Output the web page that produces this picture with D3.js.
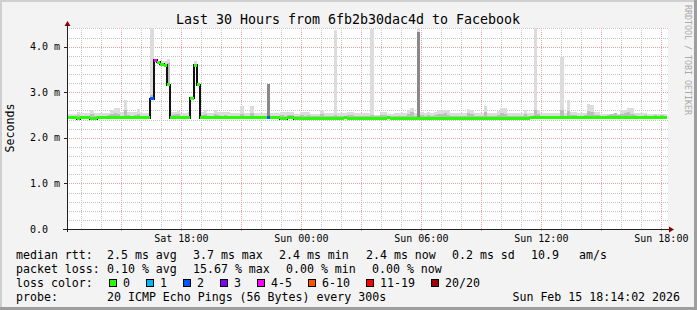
<!DOCTYPE html>
<html>
<head>
<meta charset="utf-8">
<script src="https://cdn.jsdelivr.net/npm/d3@7"></script>
<style>
  body { margin: 0; background: #fff; }
  svg text { font-family: "DejaVu Sans Mono", monospace; fill: #000; }
</style>
</head>
<body>
<svg id="chart" width="697" height="310"></svg>
<script>
var title = "Last 30 Hours from 6fb2b30dac4d to Facebook";
var yTitle = "Seconds";
var watermark = "RRDTOOL / TOBI OETIKER";

// 10 minute bins starting Sat 14 Feb 12:17
var binStart = Date.UTC(2026, 1, 14, 12, 17);
var binMinutes = 10;
var timeEnd = Date.UTC(2026, 1, 15, 18, 17);

// median rtt in ms
var median = [
  2.44,2.44,2.44,2.42,2.44,2.44,2.44,2.42,2.42,2.44,
  2.44,2.44,2.44,2.44,2.44,2.44,2.44,2.44,2.44,2.44,
  2.44,2.44,2.44,2.44,2.44,2.86,3.70,3.66,3.61,3.59,
  3.16,2.44,2.44,2.44,2.44,2.44,2.44,2.87,3.59,3.17,
  2.44,2.44,2.44,2.44,2.44,2.44,2.44,2.44,2.44,2.44,
  2.44,2.44,2.44,2.44,2.44,2.44,2.44,2.44,2.44,2.44,
  2.44,2.44,2.44,2.44,2.42,2.42,2.44,2.44,2.42,2.42,
  2.43,2.43,2.43,2.43,2.42,2.43,2.43,2.43,2.43,2.43,
  2.43,2.43,2.43,2.44,2.43,2.43,2.43,2.43,2.42,2.43,
  2.43,2.43,2.43,2.43,2.43,2.43,2.44,2.43,2.43,2.43,
  2.43,2.43,2.43,2.43,2.42,2.43,2.43,2.43,2.43,2.43,
  2.43,2.43,2.43,2.43,2.43,2.43,2.43,2.42,2.43,2.43,
  2.43,2.43,2.43,2.43,2.43,2.43,2.43,2.43,2.43,2.43,
  2.43,2.43,2.43,2.42,2.43,2.43,2.43,2.43,2.43,2.44,
  2.44,2.44,2.44,2.44,2.44,2.45,2.44,2.44,2.44,2.44,
  2.44,2.44,2.44,2.44,2.44,2.44,2.44,2.44,2.44,2.44,
  2.44,2.44,2.44,2.44,2.45,2.44,2.44,2.44,2.44,2.44,
  2.44,2.44,2.44,2.44,2.44,2.45,2.44,2.44,2.44,2.44
];

// outer smoke (slowest ping per bin)
var smokeTop = [
  2.52,2.52,2.52,2.56,2.54,2.54,2.54,2.61,2.54,2.54,
  2.54,2.54,2.55,2.61,2.65,2.65,2.57,2.83,2.57,2.57,
  2.57,2.63,2.54,2.55,2.54,4.41,3.73,3.69,3.69,3.69,
  3.73,2.56,2.56,2.58,2.55,2.55,2.56,2.92,3.69,3.20,
  2.56,2.60,2.55,2.55,2.61,2.57,2.57,2.57,2.57,2.54,
  2.54,2.54,2.70,2.54,2.54,2.69,2.54,2.54,2.54,2.54,
  3.18,2.54,2.54,2.54,2.56,2.56,2.57,2.57,2.52,2.52,
  2.57,2.57,2.57,2.52,2.52,2.52,2.61,2.54,2.54,2.54,
  4.36,2.54,2.54,2.54,2.57,2.57,2.54,2.54,2.54,2.54,
  2.54,4.38,2.50,2.50,2.57,2.57,2.52,2.52,2.54,2.54,
  2.54,2.54,2.61,2.66,2.54,4.41,2.56,2.54,2.56,2.54,
  2.56,2.61,2.61,2.61,2.61,2.54,2.54,2.54,2.54,2.54,
  2.64,2.62,2.54,2.54,2.54,2.70,2.54,2.54,2.54,2.58,
  2.65,2.65,2.54,2.54,2.54,2.54,2.54,2.61,2.54,2.54,
  4.41,2.61,2.54,2.54,2.54,2.54,2.54,2.54,3.78,2.54,
  2.83,2.57,2.57,2.54,2.54,2.54,2.75,2.72,2.57,2.57,
  2.52,2.52,2.52,2.52,2.52,2.52,2.61,2.61,2.65,2.65,
  2.54,2.54,2.54,2.54,2.52,2.52,2.52,2.52,2.52,2.52
];

// inner smoke
var smokeMid = [
  2.48,2.48,2.49,2.50,2.49,2.48,2.49,2.52,2.49,2.48,
  2.48,2.49,2.50,2.52,2.55,2.52,2.49,2.60,2.50,2.49,
  2.50,2.52,2.49,2.48,2.48,2.95,3.72,3.67,3.64,3.62,
  3.64,2.50,2.52,2.53,2.49,2.48,2.49,2.89,3.63,3.19,
  2.50,2.52,2.49,2.49,2.53,2.50,2.49,2.50,2.49,2.48,
  2.48,2.49,2.52,2.48,2.49,2.55,2.49,2.48,2.48,2.49,
  2.49,2.49,2.48,2.48,2.50,2.49,2.51,2.50,2.47,2.47,
  2.50,2.49,2.51,2.47,2.47,2.47,2.53,2.48,2.48,2.49,
  2.50,2.48,2.49,2.48,2.50,2.51,2.48,2.49,2.48,2.48,
  2.48,2.50,2.47,2.47,2.50,2.51,2.47,2.48,2.49,2.48,
  2.48,2.49,2.53,2.56,2.48,2.50,2.50,2.49,2.50,2.48,
  2.50,2.53,2.52,2.54,2.51,2.48,2.49,2.48,2.48,2.49,
  2.55,2.53,2.49,2.48,2.48,2.56,2.49,2.48,2.48,2.51,
  2.55,2.53,2.49,2.48,2.48,2.49,2.48,2.52,2.49,2.48,
  2.60,2.52,2.49,2.48,2.49,2.48,2.49,2.48,2.60,2.48,
  2.58,2.50,2.51,2.49,2.49,2.50,2.58,2.56,2.50,2.51,
  2.48,2.49,2.50,2.53,2.54,2.50,2.52,2.55,2.57,2.53,
  2.50,2.49,2.48,2.50,2.49,2.48,2.50,2.49,2.50,2.49
];

var darkBins = [60, 105];
var darkTops = [3.18, 4.33];

var lossBins = [25, 26, 60];
var lossLevels = [2, 4, 2];

var lossLabels = ["0", "1", "2", "3", "4-5", "6-10", "11-19", "20/20"];
var lossColors = ["#26ff00", "#00b8ff", "#0059ff", "#7e00ff", "#ff00ff", "#ff5500", "#ff0000", "#a10000"];

var yTickValues = [0, 1, 2, 3, 4];
var yTickLabels = ["0.0", "1.0 m", "2.0 m", "3.0 m", "4.0 m"];
var xTickTimes = [Date.UTC(2026,1,14,18), Date.UTC(2026,1,15,0), Date.UTC(2026,1,15,6), Date.UTC(2026,1,15,12), Date.UTC(2026,1,15,18)];

var rttHead = "median rtt:";
var rttStats = ["2.5 ms avg", "3.7 ms max", "2.4 ms min", "2.4 ms now", "0.2 ms sd", "10.9", "am/s"];
var lossHead = "packet loss:";
var lossStats = ["0.10 % avg", "15.67 % max", "0.00 % min", "0.00 % now"];
var colorHead = "loss color:";
var probeHead = "probe:";
var probeText = "20 ICMP Echo Pings (56 Bytes) every 300s";
var stamp = "Sun Feb 15 18:14:02 2026";

// ---- layout
var plot = {l: 67, r: 667, t: 28, b: 229};
var svg = d3.select("#chart");

svg.append("rect").attr("width", 697).attr("height", 310).attr("fill", "#f3f3f3");
svg.append("rect").attr("x", 0).attr("y", 0).attr("width", 697).attr("height", 2).attr("fill", "#cfcfcf");
svg.append("rect").attr("x", 0).attr("y", 0).attr("width", 2).attr("height", 310).attr("fill", "#cfcfcf");
svg.append("rect").attr("x", 0).attr("y", 307).attr("width", 697).attr("height", 3).attr("fill", "#9e9e9e");
svg.append("rect").attr("x", 694).attr("y", 0).attr("width", 3).attr("height", 310).attr("fill", "#9e9e9e");

svg.append("rect")
  .attr("x", plot.l).attr("y", plot.t)
  .attr("width", plot.r - plot.l + 1).attr("height", plot.b - plot.t)
  .attr("fill", "#fff");

var x = d3.scaleUtc().domain([binStart, timeEnd]).range([plot.l, plot.r]);
var y = d3.scaleLinear().domain([0, 4.41]).range([plot.b, plot.t]);

var binTime = function(i) { return binStart + i * binMinutes * 60000; };

// grid
var grid = svg.append("g").attr("shape-rendering", "crispEdges");
var minorY = d3.range(1, 23).map(function(k) { return k * 0.2; }).filter(function(v) { return Math.abs(v - Math.round(v)) > 0.01; });
grid.selectAll(".minY").data(minorY).enter().append("line")
  .attr("x1", plot.l).attr("x2", plot.r + 1)
  .attr("y1", function(d) { return Math.round(y(d)) + 0.5; })
  .attr("y2", function(d) { return Math.round(y(d)) + 0.5; })
  .attr("stroke", "#c4c4c4").attr("stroke-dasharray", "1,1");
var hours = d3.utcHour.range(binStart, timeEnd);
grid.selectAll(".minX").data(hours.filter(function(d) { return d.getUTCHours() % 3 != 0; })).enter().append("line")
  .attr("x1", function(d) { return Math.round(x(d)) + 0.5; })
  .attr("x2", function(d) { return Math.round(x(d)) + 0.5; })
  .attr("y1", plot.t).attr("y2", plot.b)
  .attr("stroke", "#c4c4c4").attr("stroke-dasharray", "1,1");
grid.selectAll(".majY").data(yTickValues.slice(1)).enter().append("line")
  .attr("x1", plot.l).attr("x2", plot.r + 1)
  .attr("y1", function(d) { return Math.round(y(d)) + 0.5; })
  .attr("y2", function(d) { return Math.round(y(d)) + 0.5; })
  .attr("stroke", "#e8a4a4").attr("stroke-dasharray", "1,1");
grid.selectAll(".majX").data(hours.filter(function(d) { return d.getUTCHours() % 3 == 0; })).enter().append("line")
  .attr("x1", function(d) { return Math.round(x(d)) + 0.5; })
  .attr("x2", function(d) { return Math.round(x(d)) + 0.5; })
  .attr("y1", plot.t).attr("y2", plot.b + 3)
  .attr("stroke", "#e8a4a4").attr("stroke-dasharray", "1,1");

// data
var bins = median.map(function(m, i) {
  return {t0: binTime(i), t1: binTime(i + 1), med: m, top: smokeTop[i], mid: smokeMid[i], loss: 0};
});
lossBins.forEach(function(b, k) { bins[b].loss = lossLevels[k]; });

var data = svg.append("g").attr("shape-rendering", "crispEdges");

var smokeRect = function(cls, topKey, color) {
  data.selectAll("." + cls).data(bins).enter().append("rect")
    .attr("class", cls)
    .attr("x", function(d) { return x(d.t0); })
    .attr("width", function(d) { return x(d.t1) - x(d.t0); })
    .attr("y", function(d) { return y(Math.min(d[topKey], 4.41)); })
    .attr("height", function(d) { return Math.max(0, y(d.med) - y(Math.min(d[topKey], 4.41))); })
    .attr("fill", color);
};
smokeRect("smoke-top", "top", "#dcdcdc");
smokeRect("smoke-mid", "mid", "#bdbdbd");

data.selectAll(".dark").data(darkBins).enter().append("rect")
  .attr("x", function(b) { return x(binTime(b)); })
  .attr("width", function(b) { return x(binTime(b + 1)) - x(binTime(b)); })
  .attr("y", function(b, k) { return y(darkTops[k]); })
  .attr("height", function(b, k) { return y(median[b]) - y(darkTops[k]); })
  .attr("fill", "#888888");

var stepPts = bins.map(function(d) { return [d.t0, d.med]; });
stepPts.push([bins[bins.length - 1].t1, median[median.length - 1]]);
data.append("path")
  .attr("d", d3.line().curve(d3.curveStepAfter)
    .x(function(d) { return x(d[0]); })
    .y(function(d) { return y(d[1]); })(stepPts))
  .attr("fill", "none").attr("stroke", "#111").attr("stroke-width", 2);

data.selectAll(".med").data(bins).enter().append("rect")
  .attr("x", function(d) { return x(d.t0); })
  .attr("width", function(d) { return x(d.t1) - x(d.t0); })
  .attr("y", function(d) { return y(d.med) - 1.5; })
  .attr("height", 3)
  .attr("fill", function(d) { return lossColors[d.loss]; });

// axes
var axis = svg.append("g").attr("shape-rendering", "crispEdges");
axis.append("line").attr("x1", plot.l - 4).attr("x2", plot.r + 3)
  .attr("y1", plot.b + 0.5).attr("y2", plot.b + 0.5).attr("stroke", "#222");
axis.append("line").attr("x1", plot.l + 0.5).attr("x2", plot.l + 0.5)
  .attr("y1", plot.b + 3).attr("y2", plot.t - 2).attr("stroke", "#222");
axis.selectAll(".yt").data(yTickValues).enter().append("line")
  .attr("x1", plot.l - 3).attr("x2", plot.l)
  .attr("y1", function(d) { return Math.round(y(d)) + 0.5; })
  .attr("y2", function(d) { return Math.round(y(d)) + 0.5; })
  .attr("stroke", "#222");
svg.append("path").attr("d", "M" + (plot.r + 2) + "," + (plot.b - 2.5) + "L" + (plot.r + 7) + "," + (plot.b + 0.5) + "L" + (plot.r + 2) + "," + (plot.b + 3.5) + "Z")
  .attr("fill", "#8b0000");
svg.append("path").attr("d", "M" + (plot.l - 2.5) + "," + (plot.t - 2) + "L" + (plot.l + 0.5) + "," + (plot.t - 7) + "L" + (plot.l + 3.5) + "," + (plot.t - 2) + "Z")
  .attr("fill", "#8b0000");

svg.selectAll(".ylab").data(yTickValues).enter().append("text")
  .attr("x", 30).attr("y", function(d) { return y(d) + 3.5; })
  .attr("font-size", "10px")
  .text(function(d, i) { return yTickLabels[i]; });

var fmt = d3.utcFormat("%a %H:%M");
svg.selectAll(".xlab").data(xTickTimes).enter().append("text")
  .attr("x", function(d) { return x(d); }).attr("y", 241.5)
  .attr("text-anchor", "middle").attr("font-size", "10px")
  .text(function(d) { return fmt(new Date(d)); });

svg.append("text").attr("x", 348).attr("y", 24).attr("text-anchor", "middle")
  .attr("font-size", "13.3px").text(title);
svg.append("text").attr("transform", "translate(14,128) rotate(-90)")
  .attr("text-anchor", "middle").attr("font-size", "11.6px").text(yTitle);
svg.append("text").attr("transform", "translate(685,5) rotate(90)")
  .attr("font-size", "8.3px").style("fill", "#aaa").text(watermark);

// legend
var legend = svg.append("g").attr("font-size", "11.6px");
var rttX = [107, 193, 279, 366, 452, 531, 579];
var lossX = [107, 193, 286, 372];
legend.append("text").attr("x", 16).attr("y", 258.5).text(rttHead);
legend.selectAll(".rtt").data(rttStats).enter().append("text")
  .attr("x", function(d, i) { return rttX[i]; }).attr("y", 258.5).text(function(d) { return d; });
legend.append("text").attr("x", 16).attr("y", 272.5).text(lossHead);
legend.selectAll(".pl").data(lossStats).enter().append("text")
  .attr("x", function(d, i) { return lossX[i]; }).attr("y", 272.5).text(function(d) { return d; });
legend.append("text").attr("x", 16).attr("y", 286.5).text(colorHead);
var bx = 109;
lossLabels.forEach(function(lab, i) {
  legend.append("rect").attr("x", bx).attr("y", 279).attr("width", 7).attr("height", 7)
    .attr("fill", lossColors[i]).attr("stroke", "#000").attr("shape-rendering", "crispEdges");
  legend.append("text").attr("x", bx + 14).attr("y", 286.5).text(lab);
  bx += 30 + lab.length * 7;
});
legend.append("text").attr("x", 16).attr("y", 300.5).text(probeHead);
legend.append("text").attr("x", 107).attr("y", 300.5).text(probeText);
legend.append("text").attr("x", 680).attr("y", 300.5).attr("text-anchor", "end").text(stamp);
</script>
</body>
</html>
